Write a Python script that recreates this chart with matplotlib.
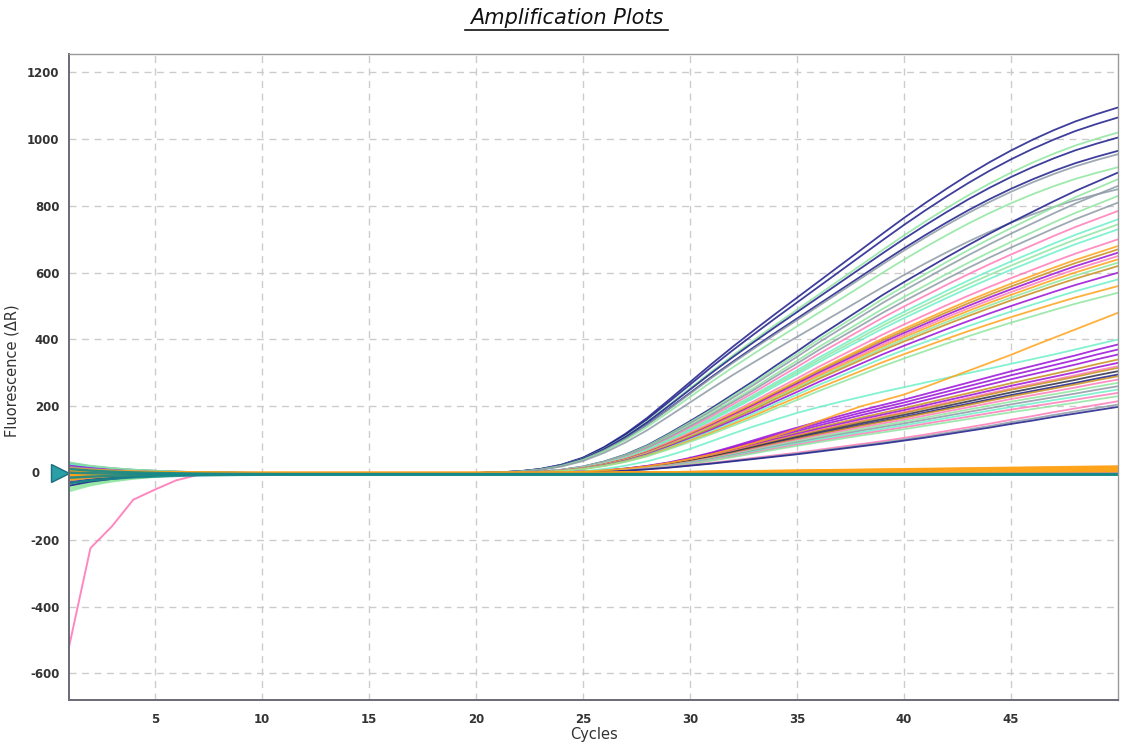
import numpy as np
import matplotlib
matplotlib.use("Agg")
import matplotlib.pyplot as plt
from matplotlib.lines import Line2D

plt.rcParams["axes.unicode_minus"] = False

cycles = np.arange(1, 51)

# typed curve profiles (value at cycles 1..50)
early_shape = [0] * 18 + [0, 0, 2, 5, 12, 25, 46, 78, 118, 165, 218, 272, 326, 378, 428,
                          477, 525, 573, 621, 669, 717, 764, 809, 852, 893, 931, 966,
                          998, 1027, 1053, 1075, 1095]
mid_shape = [0] * 18 + [0, 0, 0, 1, 3, 7, 14, 25, 40, 60, 85, 112, 140, 170, 200, 232,
                        263, 295, 325, 355, 385, 413, 440, 467, 493, 518, 542, 565, 588,
                        610, 630, 650]
low_shape = [0] * 18 + [0, 0, 0, 0, 1, 2, 4, 7, 12, 19, 28, 40, 54, 70, 87, 104, 120,
                        136, 151, 166, 180, 194, 209, 224, 239, 254, 269, 283, 297, 311,
                        326, 340]
late_shape = [0] * 18 + [0, 0, 0, 0, 0, 1, 2, 4, 7, 11, 16, 22, 28, 35, 42, 49, 56, 64,
                         72, 80, 88, 97, 106, 116, 126, 136, 147, 157, 168, 178, 188, 198]
flat_shape = [0] * 18 + [0, 0, 0, 0, 0, 0, 0, 0, 0.5, 1, 1.5, 2, 2.5, 3, 3.5, 4, 4.5,
                         5, 5.5, 6, 6.5, 7, 7.5, 8, 8.5, 9, 9.5, 10, 10.5, 11, 11.5, 12]
orange_riser = [0] * 17 + [0, 0, 0, 0, 0, 1, 2, 4, 8, 13, 20, 30, 42, 56, 72, 90, 110,
                           132, 155, 178, 200, 217, 235, 258, 282, 306, 330, 354, 380,
                           405, 430, 455, 480]
cyan_line = [0] * 18 + [0, 0, 0, 0, 1, 2, 5, 12, 22, 35, 52, 72, 95, 118, 140, 160, 180,
                        197, 213, 228, 243, 257, 271, 285, 299, 313, 327, 341, 355, 370,
                        385, 400]
pink_outlier = [-520, -225, -160, -80, -50, -22, -6, 0] + [0] * 42

# baseline fan decay over the first cycles
decay = [1.0, 0.68, 0.47, 0.32, 0.22, 0.14, 0.08, 0.045, 0.02, 0.01] + [0] * 40

navy = "#1c1c8a"
gray = "#8d9aa6"
lgreen = "#8fe6a0"
aqua = "#6cf0c8"
pink = "#ff7ab8"
orange = "#ffa31a"
gold = "#c8901e"
purple = "#9a10d8"
dslate = "#2e2e48"
teal = "#168a8a"

early_ends = [1095, 1065, 1020, 1005, 965, 955, 916, 850]
early_colors = [navy, navy, lgreen, navy, navy, gray, lgreen, gray]
early_start = [30, 25, 10, -20, 15, 5, -10, 20]

mid_ends = [900, 880, 860, 830, 810, 785, 760, 745, 730, 700, 680, 670, 660, 650, 640,
            630, 620, 600, 580, 560, 540]
mid_colors = [navy, lgreen, gray, lgreen, gray, pink, aqua, lgreen, aqua, pink, orange,
              gold, purple, pink, orange, lgreen, gold, purple, aqua, orange, lgreen]
mid_start = [-30, 20, 12, -40, 8, -15, 25, -50, 18, -8, 5, -25, 10, -5, 15, -35, 3, -12,
             28, -20, -45]

low_ends = [385, 370, 355, 340, 330, 320, 315, 305, 295, 290, 280, 270, 260, 250,
            240, 230]
low_colors = [purple, purple, purple, gold, purple, pink, gold, dslate, navy,
              gold, pink, lgreen, gray, aqua, pink, lgreen]
low_start = [-18, 22, -6, 9, -28, 16, -2, 6, -38, 14, -10, 32, -22, 4, -14, -55]

late_ends = [215, 205, 198]
late_colors = [pink, gray, navy]
late_start = [-8, 18, -30]

flat_ends = [20, 18, 16, 15, 14, 13, 12, 10, 9, 8, 6, 5]
flat_start = [10, -12, 6, -20, 3, -4, 14, -9, 2, -16, 8, -3]

teal_levels = [-4, -4, -5, -3]
teal_start = [-10, 5, -25, 15]

fig = plt.figure(figsize=(11.21, 7.44), dpi=100)
ax = fig.add_axes([0.0616, 0.0591, 0.9358, 0.8683])

groups = [
    (early_shape, early_ends, early_colors, early_start),
    (mid_shape, mid_ends, mid_colors, mid_start),
    (low_shape, low_ends, low_colors, low_start),
    (late_shape, late_ends, late_colors, late_start),
]
dec = np.array(decay)
for shape, ends, colors, starts in groups:
    s = np.array(shape, dtype=float)
    s = s / s[-1]
    for end, col, st in zip(ends, colors, starts):
        ax.plot(cycles, s * end + st * dec, color=col, lw=1.3, alpha=0.85)

ax.plot(cycles, np.array(cyan_line) + 12 * dec, color=aqua, lw=1.3, alpha=0.85)
ax.plot(cycles, np.array(orange_riser) + 6 * dec, color=orange, lw=1.3, alpha=0.85)
ax.plot(cycles, pink_outlier, color=pink, lw=1.4, alpha=0.9)

fs = np.array(flat_shape) / flat_shape[-1]
for end, st in zip(flat_ends, flat_start):
    ax.plot(cycles, fs * end + st * dec, color=orange, lw=1.6, alpha=0.9)
for lev, st in zip(teal_levels, teal_start):
    ax.plot(cycles, np.full(50, lev) + st * dec, color=teal, lw=1.8, alpha=0.9)

# threshold marker
ax.plot([-0.009], [0], marker=">", markersize=13, color="#2a9fa6",
        markeredgecolor="#1d6f80", transform=ax.get_yaxis_transform(), clip_on=False)

ax.set_xlim(1, 50)
ax.set_ylim(-680, 1255)
ax.set_xticks([5, 10, 15, 20, 25, 30, 35, 40, 45])
yticks = np.arange(-600, 1201, 200)
ax.set_yticks(yticks)
ax.set_yticklabels(["" if v == 0 else str(v) for v in yticks])
ax.text(-0.028, 0, "0", transform=ax.get_yaxis_transform(), ha="right", va="center",
        fontsize=8.5, fontweight="bold", color="#333333")
ax.grid(True, color="#cccccc", linestyle=(0, (5, 4)), linewidth=1)
ax.set_axisbelow(True)
ax.tick_params(length=0, labelsize=8.5, colors="#333333")
ax.tick_params(axis="x", pad=9)
ax.tick_params(axis="y", pad=7)
for lab in ax.get_xticklabels() + ax.get_yticklabels():
    lab.set_fontweight("bold")
for side in ["top", "right"]:
    ax.spines[side].set_color("#9a9a9a")
    ax.spines[side].set_linewidth(1.0)
for side in ["left", "bottom"]:
    ax.spines[side].set_color("#6a6a78")
    ax.spines[side].set_linewidth(1.4)

ax.set_xlabel("Cycles", fontsize=10.5, color="#333333")
ax.xaxis.set_label_coords(0.5, -0.041)
ax.set_ylabel("Fluorescence (ΔR)", fontsize=10.5, color="#333333")
ax.yaxis.set_label_coords(-0.047, 0.51)

fig.text(0.506, 0.976, "Amplification Plots", ha="center", va="center",
         fontsize=15, style="italic", color="#111111")
fig.add_artist(Line2D([0.415, 0.596], [0.96, 0.96], color="#111111", lw=1.2))

fig.savefig("out.png", dpi=100)
